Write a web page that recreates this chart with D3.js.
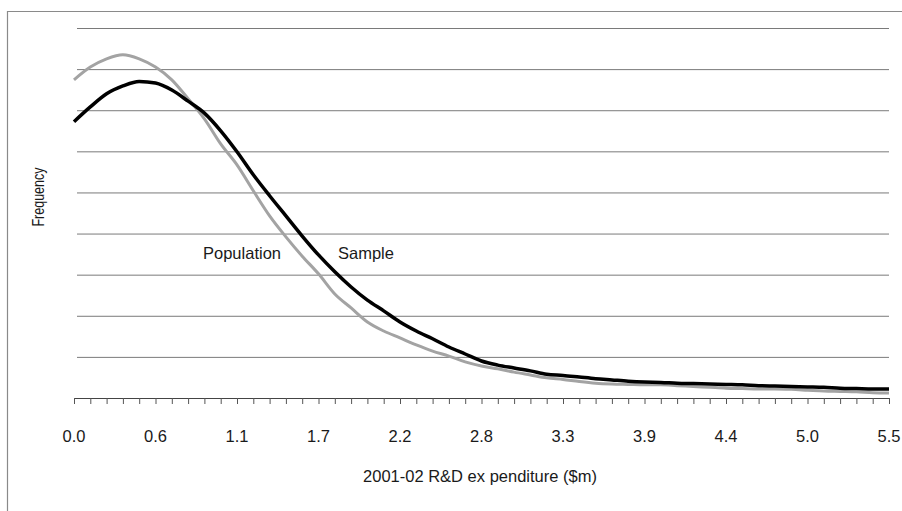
<!DOCTYPE html>
<html>
<head>
<meta charset="utf-8">
<script src="https://cdn.jsdelivr.net/npm/d3@7"></script>
<style>
  body { margin: 0; background: #fff; }
  text { font-family: 'Liberation Sans', Arial, sans-serif; fill: #1a1a1a; }
</style>
</head>
<body>
<div class="view"></div>
<script>
// R&D expenditure bins ($m), one per category on the x axis
const categories = [0.00, 0.11, 0.22, 0.33, 0.44, 0.55, 0.66, 0.77, 0.88, 0.99,
  1.10, 1.21, 1.32, 1.43, 1.54, 1.65, 1.76, 1.87, 1.98, 2.09,
  2.20, 2.31, 2.42, 2.53, 2.64, 2.75, 2.86, 2.97, 3.08, 3.19,
  3.30, 3.41, 3.52, 3.63, 3.74, 3.85, 3.96, 4.07, 4.18, 4.29,
  4.40, 4.51, 4.62, 4.73, 4.84, 4.95, 5.06, 5.17, 5.28, 5.39, 5.50]

// frequency (in gridline units)
const sample = [6.72, 7.08, 7.40, 7.59, 7.70, 7.66, 7.49, 7.22, 6.93, 6.50,
  5.99, 5.43, 4.92, 4.43, 3.94, 3.48, 3.07, 2.70, 2.38, 2.12,
  1.85, 1.63, 1.44, 1.24, 1.07, 0.90, 0.80, 0.73, 0.66, 0.58,
  0.55, 0.51, 0.47, 0.44, 0.41, 0.39, 0.38, 0.36, 0.35, 0.34,
  0.33, 0.32, 0.30, 0.29, 0.28, 0.27, 0.26, 0.24, 0.23, 0.22, 0.22]

const population = [7.74, 8.05, 8.25, 8.35, 8.25, 8.05, 7.74, 7.28, 6.79, 6.18,
  5.67, 5.04, 4.43, 3.92, 3.45, 3.02, 2.53, 2.19, 1.85, 1.63,
  1.46, 1.29, 1.14, 1.02, 0.88, 0.78, 0.71, 0.63, 0.56, 0.49,
  0.45, 0.40, 0.36, 0.34, 0.33, 0.32, 0.32, 0.30, 0.28, 0.26,
  0.24, 0.23, 0.22, 0.22, 0.21, 0.19, 0.17, 0.16, 0.15, 0.13, 0.12]

const tickLabels = ['0.0', '0.6', '1.1', '1.7', '2.2', '2.8', '3.3', '3.9', '4.4', '5.0', '5.5']

const w = 902
const h = 511
const fs = 16.5

const svg = d3.select('.view')
  .append('svg')
  .attr('width', w)
  .attr('height', h)

// outer frame (left and top edge only are visible)
svg.append('path')
  .attr('d', 'M7.5,511 L7.5,11.5 L902,11.5')
  .attr('fill', 'none')
  .attr('stroke', '#8a8a8a')
  .attr('stroke-width', 1.2)

const xScale = d3.scaleLinear()
  .domain([0, 5.5])
  .range([74, 889])

const yScale = d3.scaleLinear()
  .domain([0, 9])
  .range([398, 28])

// gridlines
svg.append('g')
  .attr('class', 'grid')
  .attr('transform', 'translate(77,0)')
  .call(d3.axisLeft(yScale).tickValues(d3.range(1, 10)).tickSize(-(889 - 77)).tickFormat(''))
  .call(g => g.select('.domain').remove())
  .selectAll('line')
  .attr('stroke', '#7a7a7a')
  .attr('stroke-width', 1)

// x axis: a tick per category, a label every fifth
const xAxis = svg.append('g')
  .attr('class', 'x-axis')
  .attr('transform', 'translate(0,398)')
  .call(d3.axisBottom(xScale).tickValues(categories).tickSize(6).tickSizeOuter(0).tickFormat(''))

xAxis.select('.domain').attr('stroke', '#444')
xAxis.selectAll('line').attr('stroke', '#555')

svg.append('g')
  .selectAll('text')
  .data(tickLabels)
  .enter()
  .append('text')
  .attr('x', (d, i) => xScale(categories[i * 5]))
  .attr('y', 442)
  .attr('text-anchor', 'middle')
  .attr('font-size', fs)
  .text(d => d)

// curves
const line = d3.line()
  .x((d, i) => xScale(categories[i]))
  .y(d => yScale(d))
  .curve(d3.curveMonotoneX)

svg.append('path')
  .datum(population)
  .attr('d', line)
  .attr('fill', 'none')
  .attr('stroke', '#a3a3a3')
  .attr('stroke-width', 3)

svg.append('path')
  .datum(sample)
  .attr('d', line)
  .attr('fill', 'none')
  .attr('stroke', '#000')
  .attr('stroke-width', 3.5)

// series labels
svg.append('text')
  .attr('x', 242)
  .attr('y', 259)
  .attr('text-anchor', 'middle')
  .attr('font-size', fs)
  .text('Population')

svg.append('text')
  .attr('x', 366)
  .attr('y', 259)
  .attr('text-anchor', 'middle')
  .attr('font-size', fs)
  .text('Sample')

// axis titles
svg.append('text')
  .attr('x', 480)
  .attr('y', 482)
  .attr('text-anchor', 'middle')
  .attr('font-size', fs)
  .text('2001-02 R&D ex penditure ($m)')

svg.append('text')
  .attr('transform', 'translate(44,197) rotate(-90) scale(1,1.3)')
  .attr('text-anchor', 'middle')
  .attr('font-size', 12.5)
  .text('Frequency')
</script>
</body>
</html>
